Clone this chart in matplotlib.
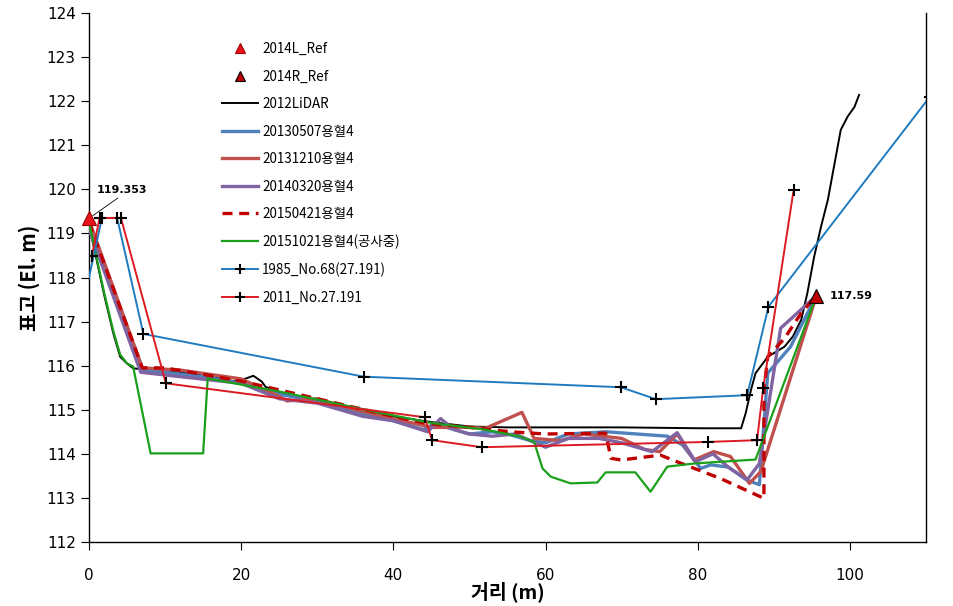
import matplotlib
matplotlib.use("Agg")
import matplotlib.pyplot as plt
from matplotlib.lines import Line2D

plt.rcParams['font.family'] = ['Noto Sans CJK KR', 'DejaVu Sans']

# ---------------- data ----------------
ref_L_x, ref_L_y = [0.0], [119.353]
ref_R_x, ref_R_y = [95.6], [117.59]

lidar_x = [0, 1, 2, 3.2, 4.1, 5.0, 5.8, 8, 12, 16, 19, 20.3, 21.6, 22.7, 23.2, 25, 30, 35, 40,
           45, 50, 55, 60, 70, 80.4, 85.7, 86.3, 87.0, 87.6, 89.2, 91.4, 92.5, 93.6, 94.4, 95.3,
           96.2, 97.1, 97.9, 98.8, 99.7, 100.6, 101.2]
lidar_y = [119.2, 118.4, 117.6, 116.73, 116.2, 116.05, 115.94, 115.9, 115.85, 115.75, 115.65, 115.69,
           115.77, 115.64, 115.52, 115.4, 115.2, 115.0, 114.85, 114.72, 114.62, 114.6, 114.6, 114.6,
           114.58, 114.58, 114.92, 115.45, 115.83, 116.2, 116.43, 116.66, 117.04, 117.64, 118.47,
           119.15, 119.76, 120.51, 121.35, 121.65, 121.87, 122.14]

s0507_x = [0, 7.1, 10, 15, 20, 25, 30, 35, 40, 44, 45.5, 47, 50, 53, 55, 58, 60, 63, 68, 72, 76,
           78, 80.4, 81.7, 84, 86.5, 88.1, 89.2, 92.2, 95.6]
s0507_y = [119.2, 115.9, 115.85, 115.75, 115.6, 115.35, 115.2, 114.95, 114.75, 114.55, 114.7, 114.6,
           114.45, 114.5, 114.45, 114.3, 114.25, 114.45, 114.5, 114.45, 114.4, 114.2, 113.67, 113.75,
           113.7, 113.4, 113.3, 115.83, 116.43, 117.59]

s1210_x = [0, 7, 12, 20, 25, 26, 30, 35, 40, 45, 50, 52.1, 56.9, 58.5, 62, 65, 70, 73, 75, 77.3,
           79.5, 82.1, 84.3, 86.8, 88.3, 95.6]
s1210_y = [119.3, 115.95, 115.9, 115.7, 115.3, 115.2, 115.25, 115.0, 114.8, 114.6, 114.6, 114.58,
           114.94, 114.35, 114.3, 114.45, 114.35, 114.1, 114.05, 114.45, 113.86, 114.05, 113.94,
           113.33, 113.6, 117.59]

s0320_x = [0, 6.8, 12, 20, 25, 30, 36, 40, 44.5, 46.2, 48, 50, 53, 56, 58, 60, 63, 67, 70, 74,
           77.3, 79.7, 82, 84, 86.5, 88.1, 90.9, 95.6]
s0320_y = [119.1, 115.85, 115.75, 115.6, 115.25, 115.15, 114.85, 114.75, 114.5, 114.8, 114.55,
           114.45, 114.4, 114.45, 114.3, 114.15, 114.35, 114.35, 114.25, 114.05, 114.48, 113.82,
           114.0, 113.7, 113.41, 113.78, 116.85, 117.59]

s0421_x = [0, 7, 10, 15, 20, 25, 30, 35, 40, 44.4, 50, 55.4, 60, 67.9, 68.6, 69.9, 75.1, 77.3,
           83, 88.7, 88.7, 89.2, 91.4, 93.6, 95.6]
s0421_y = [119.25, 115.95, 115.95, 115.8, 115.65, 115.45, 115.25, 115.05, 114.85, 114.69, 114.6,
           114.5, 114.45, 114.47, 113.9, 113.86, 113.97, 113.82, 113.44, 112.99, 115.45, 116.2,
           116.62, 117.19, 117.59]

s1021_x = [0, 1, 2, 3.2, 4.1, 5.0, 5.8, 8.1, 15.0, 15.6, 25.1, 38.3, 45, 52, 56.7, 58.5, 59.6,
           60.7, 63.3, 66.8, 67.9, 71.8, 73.8, 76, 79.5, 83, 87.6, 95.6]
s1021_y = [119.25, 118.45, 117.65, 116.78, 116.25, 116.05, 115.98, 114.01, 114.01, 115.71, 115.41,
           114.93, 114.7, 114.55, 114.39, 114.27, 113.67, 113.48, 113.33, 113.35, 113.58, 113.58,
           113.14, 113.71, 113.78, 113.82, 113.87, 117.59]

y1985_x = [0, 1.7, 3.7, 7.15, 36.1, 69.9, 74.5, 86.5, 89.3, 110.5]
y1985_y = [118.0, 119.35, 119.35, 116.72, 115.75, 115.51, 115.24, 115.33, 117.34, 122.1]

y2011_x = [0.35, 1.4, 4.2, 10.1, 44.1, 45.1, 51.6, 81.4, 87.8, 88.6, 92.6]
y2011_y = [118.48, 119.35, 119.35, 115.6, 114.83, 114.31, 114.15, 114.27, 114.31, 115.49, 119.98]

x_ticks = [0, 20, 40, 60, 80, 100]
y_ticks = [112, 113, 114, 115, 116, 117, 118, 119, 120, 121, 122, 123, 124]

labels = ['2014L_Ref', '2014R_Ref', '2012LiDAR', '20130507용혈4', '20131210용혈4',
          '20140320용혈4', '20150421용혈4', '20151021용혈4(공사중)', '1985_No.68(27.191)',
          '2011_No.27.191']

# ---------------- plot ----------------
fig = plt.figure(figsize=(9.54, 6.06), dpi=100)
ax = fig.add_axes([89/954, 1 - 542/606, (926 - 89)/954, (542 - 13)/606])

c_lidar = 'black'
c_0507 = '#4F81BD'
c_1210 = '#C0504D'
c_0320 = '#8064A2'
c_0421 = '#C00000'
c_1021 = '#1AA01A'
c_1985 = '#1F7BC0'
c_2011 = '#DC1A22'

ax.plot(lidar_x, lidar_y, color=c_lidar, lw=1.4, zorder=3)
ax.plot(s0507_x, s0507_y, color=c_0507, lw=2.4, zorder=4)
ax.plot(s1210_x, s1210_y, color=c_1210, lw=2.4, zorder=4)
ax.plot(s0320_x, s0320_y, color=c_0320, lw=2.4, zorder=4)
ax.plot(s0421_x, s0421_y, color=c_0421, lw=2.4, ls=(0, (3, 2)), zorder=4)
ax.plot(s1021_x, s1021_y, color=c_1021, lw=1.6, zorder=5)
ax.plot(y1985_x, y1985_y, color=c_1985, lw=1.4, marker='+', ms=8, mec='black', mew=1.5,
        markevery=list(range(1, len(y1985_x))), zorder=6)
ax.plot(y2011_x, y2011_y, color=c_2011, lw=1.4, marker='+', ms=8, mec='black', mew=1.5, zorder=6)
ax.plot(ref_L_x, ref_L_y, ls='none', marker='^', ms=10, mfc='#E8141C', mec='#A00000', mew=0.8,
        zorder=8, clip_on=False)
ax.plot(ref_R_x, ref_R_y, ls='none', marker='^', ms=10, mfc='#C00000', mec='black', mew=0.8,
        zorder=8, clip_on=False)

ax.annotate(f'{ref_L_y[0]:.3f}', xy=(ref_L_x[0] + 0.5, ref_L_y[0] + 0.05), xytext=(1.0, 119.98),
            fontsize=8, fontweight='bold', ha='left', va='center', family='DejaVu Sans',
            arrowprops=dict(arrowstyle='-', color='black', lw=0.6, shrinkA=0, shrinkB=0,
                            relpos=(0.5, 0.0)))
ax.text(ref_R_x[0] + 1.8, ref_R_y[0], f'{ref_R_y[0]:.2f}', fontsize=8, fontweight='bold',
        ha='left', va='center', family='DejaVu Sans')

ax.set_xlim(0, 110)
ax.set_ylim(112, 124)
ax.set_xticks(x_ticks)
ax.set_yticks(y_ticks)
ax.tick_params(direction='out', length=6, labelsize=11, width=0.8)
ax.tick_params(axis='x', pad=12.5)
for lab in ax.get_xticklabels() + ax.get_yticklabels():
    lab.set_family('DejaVu Sans')
ax.spines['top'].set_visible(False)
for s in ['left', 'bottom', 'right']:
    ax.spines[s].set_linewidth(1.0)

ax.set_xlabel('거리 (m)', fontsize=14, fontweight='bold', labelpad=-1)
ax.set_ylabel('표고 (El. m)', fontsize=14.5, fontweight='bold', labelpad=5)

handles = [
    Line2D([], [], ls='none', marker='^', ms=7, mfc='#E8141C', mec='#A00000', mew=0.8),
    Line2D([], [], ls='none', marker='^', ms=7, mfc='#C00000', mec='black', mew=0.8),
    Line2D([], [], color=c_lidar, lw=1.4),
    Line2D([], [], color=c_0507, lw=2.4),
    Line2D([], [], color=c_1210, lw=2.4),
    Line2D([], [], color=c_0320, lw=2.4),
    Line2D([], [], color=c_0421, lw=2.4, ls=(0, (3, 2))),
    Line2D([], [], color=c_1021, lw=1.6),
    Line2D([], [], color=c_1985, lw=1.4, marker='+', ms=7, mec='black', mew=1.5),
    Line2D([], [], color=c_2011, lw=1.4, marker='+', ms=7, mec='black', mew=1.5),
]
ax.legend(handles, labels, loc='upper left', bbox_to_anchor=(0.153, 0.955), frameon=False,
          fontsize=9.7, handlelength=2.65, handletextpad=0.3, labelspacing=1.0,
          borderaxespad=0.0)

fig.savefig('out.png', dpi=100)
